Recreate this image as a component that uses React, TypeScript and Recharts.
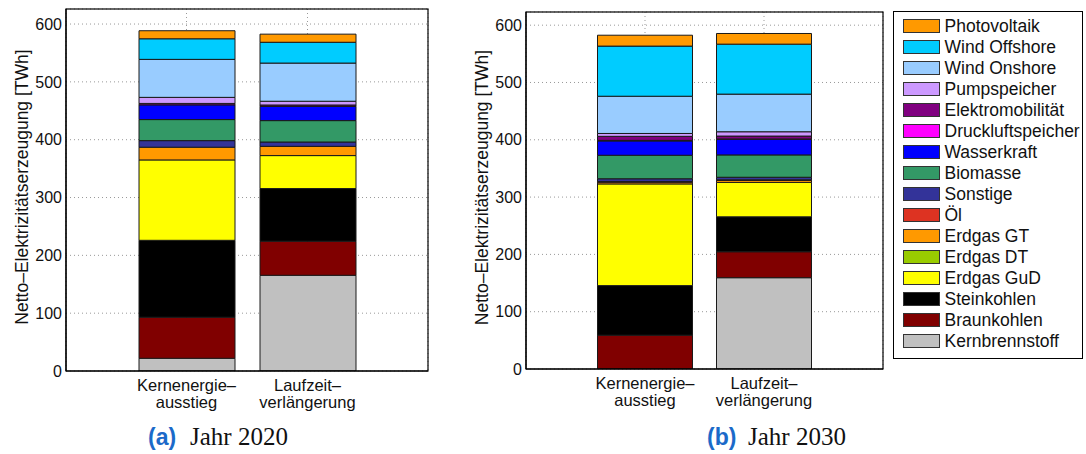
import React from 'react';
import { BarChart, Bar, XAxis, YAxis, CartesianGrid, Label } from 'recharts';

// Stack order, bottom to top
const seriesNames = [
  'Kernbrennstoff', 'Braunkohlen', 'Steinkohlen', 'Erdgas GuD', 'Erdgas DT', 'Erdgas GT', 'Öl',
  'Sonstige', 'Biomasse', 'Wasserkraft', 'Druckluftspeicher', 'Elektromobilität', 'Pumpspeicher',
  'Wind Onshore', 'Wind Offshore', 'Photovoltaik',
];
const seriesColors = [
  '#c0c0c0', '#800000', '#000000', '#ffff00', '#99cc00', '#ff9900', '#dd3322',
  '#333399', '#339966', '#0000ff', '#ff00ff', '#800080', '#cc99ff',
  '#99ccff', '#00ccff', '#ff9900',
];

const categories = ['Kernenergieausstieg', 'Laufzeitverlängerung'];
const tickLine1 = ['Kernenergie–', 'Laufzeit–'];
const tickLine2 = ['ausstieg', 'verlängerung'];
const yTicks = [0, 100, 200, 300, 400, 500, 600];

// TWh per series (stack order) for each scenario
const ausstieg2020 = [22, 71, 133, 139, 0, 22, 0, 11.4, 36.4, 25.4, 0, 2.5, 10.5, 65.7, 35.6, 13.9];
const laufzeit2020 = [165.5, 59, 91, 57, 0, 16, 0, 7.5, 37, 24.5, 0, 2.5, 6.5, 66, 36, 14];
const ausstieg2030 = [0, 59, 86.5, 177.5, 0, 3, 1, 5, 41, 25, 1, 7, 5, 65, 87.5, 19];
const laufzeit2030 = [159.3, 45.3, 61, 60, 0, 3.5, 1, 4.5, 39, 27.4, 0.5, 5, 7.5, 65.7, 87.2, 18.6];

const FONT = '"Liberation Sans", Arial, Helvetica, sans-serif';

function buildRows(a: number[], b: number[]) {
  return [a, b].map((vals, i) => {
    const row: Record<string, number | string> = { name: categories[i] };
    vals.forEach((v, k) => { row['s' + k] = v; });
    return row;
  });
}

const data2020 = buildRows(ausstieg2020, laufzeit2020);
const data2030 = buildRows(ausstieg2030, laufzeit2030);

const XTick = (props: any) => {
  const { x, y, index } = props;
  return (
    <text x={x} textAnchor="middle" fontFamily={FONT} fontSize={16.5} fill="#111">
      <tspan x={x} y={y + 20}>{tickLine1[index]}</tspan>
      <tspan x={x} y={y + 37}>{tickLine2[index]}</tspan>
    </text>
  );
};

const YLabel = (props: any) => {
  const vb = props.viewBox || {};
  const cx = 22;
  const cy = vb.y + vb.height / 2 - 3;
  return (
    <text
      x={cx}
      y={cy}
      transform={`rotate(-90, ${cx}, ${cy})`}
      textAnchor="middle"
      dominantBaseline="central"
      fontFamily={FONT}
      fontSize={17.5}
      fill="#111"
    >
      Netto–Elektrizitätserzeugung [TWh]
    </text>
  );
};

type PanelProps = {
  data: any[];
  width: number;
  top: number;
  xHeight: number;
  yMax: number;
  pad: number;
  barSize: number;
};

const Panel = ({ data, width, top, xHeight, yMax, pad, barSize }: PanelProps) => (
  <BarChart
    width={width}
    height={440}
    data={data}
    margin={{ top, right: 12, bottom: 9, left: 0 }}
    barGap={0}
  >
    <CartesianGrid stroke="#999" strokeDasharray="1 3" />
    <XAxis
      dataKey="name"
      padding={{ left: pad, right: pad }}
      height={xHeight}
      tickLine={false}
      tickSize={0}
      tickMargin={0}
      axisLine={{ stroke: '#000', strokeWidth: 1.2 }}
      tick={<XTick />}
      interval={0}
    />
    <YAxis
      width={66}
      domain={[0, yMax]}
      ticks={yTicks}
      type="number"
      allowDataOverflow
      tickLine={false}
      tickSize={4}
      tickMargin={0}
      axisLine={{ stroke: '#000', strokeWidth: 1.2 }}
      tick={{ fontFamily: FONT, fontSize: 16, fill: '#111' }}
    >
      <Label content={<YLabel />} />
    </YAxis>
    {seriesNames.map((n, k) => (
      <Bar
        key={n}
        dataKey={'s' + k}
        name={n}
        stackId="a"
        fill={seriesColors[k]}
        stroke="#1a1a1a"
        strokeWidth={1}
        barSize={barSize}
        isAnimationActive={false}
      />
    ))}
  </BarChart>
);

const legendOrder = seriesNames.map((_, k) => seriesNames.length - 1 - k);

export default function App() {
  return (
    <div style={{ position: 'absolute', left: 0, top: 0, width: 1086, height: 454, background: '#fff', overflow: 'hidden' }}>
      <div style={{ position: 'absolute', left: 0, top: 0 }}>
        <Panel data={data2020} width={440} top={9} xHeight={60} yMax={626} pad={60} barSize={96} />
      </div>
      <div style={{ position: 'absolute', left: 460, top: 0 }}>
        <Panel data={data2030} width={435} top={12} xHeight={62} yMax={623} pad={59.5} barSize={95} />
      </div>

      {/* Legend */}
      <div
        style={{
          position: 'absolute', left: 893, top: 11, width: 190, height: 348,
          border: '1px solid #000', boxSizing: 'border-box', background: '#fff',
        }}
      >
        {legendOrder.map((k, i) => (
          <div key={seriesNames[k]} style={{ position: 'absolute', left: 0, top: 6.7 + i * 21.02, height: 14, width: 188 }}>
            <div
              style={{
                position: 'absolute', left: 9.3, top: 0, width: 37, height: 14,
                background: seriesColors[k], border: '1px solid #333', boxSizing: 'border-box',
              }}
            />
            <div
              style={{
                position: 'absolute', left: 50.5, top: -4, lineHeight: '22px', height: 22,
                fontFamily: FONT, fontSize: 17.5, color: '#111', whiteSpace: 'nowrap',
              }}
            >
              {seriesNames[k]}
            </div>
          </div>
        ))}
      </div>

      {/* Axes frames and captions */}
      <svg width={1086} height={454} style={{ position: 'absolute', left: 0, top: 0, pointerEvents: 'none' }}>
        <rect x={66} y={9} width={362} height={362} fill="none" stroke="#000" strokeWidth={1.2} />
        <rect x={526} y={12} width={357} height={357} fill="none" stroke="#000" strokeWidth={1.2} />
        <text x={148} y={445} fontFamily={FONT} fontWeight="bold" fontSize={23} fill="#1b6ac9">(a)</text>
        <text x={190} y={445} fontFamily='"Liberation Serif", serif' fontSize={25} fill="#111">Jahr 2020</text>
        <text x={707} y={445} fontFamily={FONT} fontWeight="bold" fontSize={23} fill="#1b6ac9">(b)</text>
        <text x={748} y={445} fontFamily='"Liberation Serif", serif' fontSize={25} fill="#111">Jahr 2030</text>
      </svg>
    </div>
  );
}
